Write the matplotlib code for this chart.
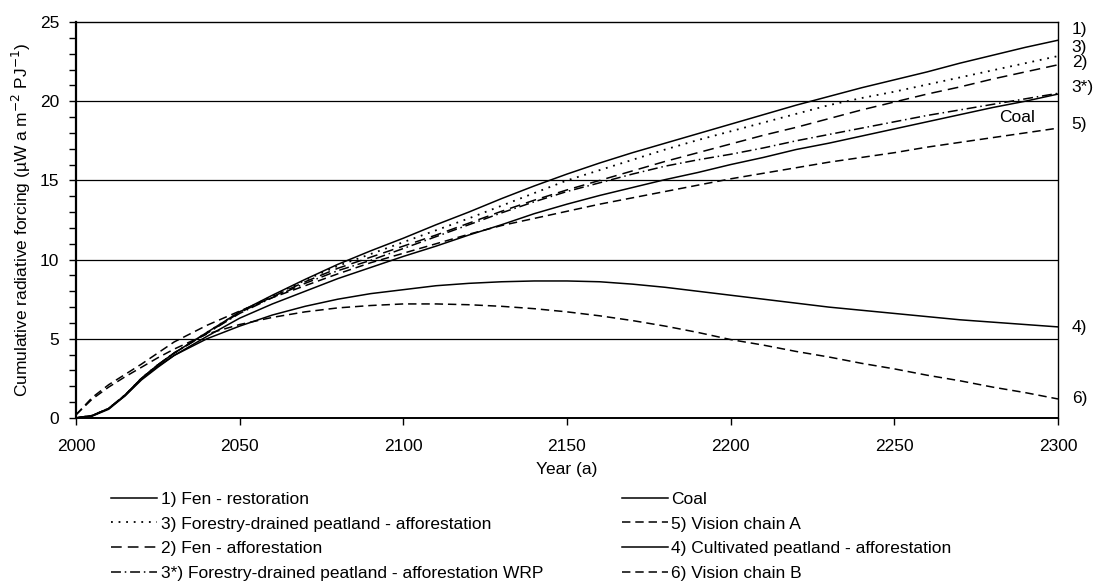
import matplotlib
matplotlib.use("Agg")
import matplotlib.pyplot as plt
import matplotlib.transforms as mtransforms
from matplotlib.ticker import MultipleLocator

plt.rcParams['font.family'] = ['Liberation Sans', 'DejaVu Sans']
plt.rcParams['font.size'] = 12.5

# Data (cumulative radiative forcing, uW a m-2 PJ-1)
years = [2000, 2005, 2010, 2015, 2020, 2025, 2030, 2040, 2050, 2060, 2070, 2080,
         2090, 2100, 2110, 2120, 2130, 2140, 2150, 2160, 2170, 2180, 2190, 2200,
         2210, 2220, 2230, 2240, 2250, 2260, 2270, 2280, 2290, 2300]

fen_restoration = [0, 0.15, 0.6, 1.45, 2.5, 3.35, 4.1, 5.4, 6.7, 7.75, 8.75, 9.7,
                   10.55, 11.35, 12.2, 13.0, 13.85, 14.65, 15.4, 16.1, 16.75, 17.35, 17.95, 18.55,
                   19.15, 19.75, 20.3, 20.85, 21.35, 21.85, 22.4, 22.9, 23.4, 23.85]
forestry_affor = [0, 0.15, 0.6, 1.45, 2.5, 3.35, 4.1, 5.4, 6.7, 7.7, 8.7, 9.6,
                  10.35, 11.1, 11.85, 12.6, 13.4, 14.2, 15.0, 15.65, 16.3, 16.95, 17.55, 18.1,
                  18.65, 19.2, 19.75, 20.2, 20.6, 21.05, 21.5, 21.95, 22.4, 22.85]
fen_affor = [0, 0.15, 0.6, 1.45, 2.5, 3.35, 4.1, 5.35, 6.65, 7.65, 8.6, 9.45,
             10.15, 10.85, 11.55, 12.3, 13.05, 13.75, 14.4, 15.0, 15.6, 16.2, 16.75, 17.3,
             17.85, 18.35, 18.9, 19.45, 19.95, 20.45, 20.9, 21.4, 21.85, 22.3]
forestry_wrp = [0, 0.15, 0.6, 1.45, 2.5, 3.35, 4.1, 5.35, 6.6, 7.6, 8.5, 9.3,
                9.95, 10.7, 11.45, 12.2, 12.95, 13.65, 14.3, 14.85, 15.4, 15.9, 16.3, 16.65,
                17.05, 17.5, 17.9, 18.3, 18.7, 19.1, 19.45, 19.8, 20.15, 20.5]
coal = [0, 0.12, 0.55, 1.4, 2.45, 3.25, 3.95, 5.15, 6.3, 7.2, 8.0, 8.8,
        9.5, 10.2, 10.85, 11.55, 12.2, 12.9, 13.5, 14.05, 14.55, 15.05, 15.5, 16.0,
        16.45, 16.95, 17.35, 17.8, 18.25, 18.7, 19.15, 19.6, 20.0, 20.45]
vision_a = [0.2, 1.3, 2.1, 2.75, 3.4, 4.1, 4.8, 5.85, 6.75, 7.6, 8.35, 9.1,
            9.8, 10.4, 11.0, 11.6, 12.15, 12.6, 13.05, 13.5, 13.9, 14.3, 14.7, 15.1,
            15.45, 15.8, 16.15, 16.45, 16.75, 17.1, 17.4, 17.7, 18.0, 18.3]
cultivated_affor = [0, 0.15, 0.6, 1.4, 2.4, 3.2, 3.95, 5.0, 5.8, 6.5, 7.05, 7.5,
                    7.85, 8.1, 8.35, 8.5, 8.6, 8.65, 8.65, 8.6, 8.45, 8.25, 8.0, 7.75,
                    7.5, 7.25, 7.0, 6.8, 6.6, 6.4, 6.2, 6.05, 5.9, 5.75]
vision_b = [0.2, 1.2, 1.95, 2.6, 3.2, 3.8, 4.35, 5.3, 5.9, 6.35, 6.7, 6.95,
            7.1, 7.2, 7.2, 7.15, 7.05, 6.9, 6.7, 6.45, 6.15, 5.8, 5.4, 4.95,
            4.6, 4.2, 3.85, 3.45, 3.1, 2.7, 2.35, 1.95, 1.6, 1.2]

series = [
    ("1) Fen - restoration", fen_restoration, "-", 1.1),
    ("3) Forestry-drained peatland - afforestation", forestry_affor, (0, (1, 3.2)), 1.3),
    ("2) Fen - afforestation", fen_affor, (0, (7, 4)), 1.1),
    ("3*) Forestry-drained peatland - afforestation WRP", forestry_wrp, (0, (6.5, 2.5, 1, 2.5)), 1.1),
    ("Coal", coal, "-", 1.1),
    ("5) Vision chain A", vision_a, (0, (5.5, 3.2)), 1.1),
    ("4) Cultivated peatland - afforestation", cultivated_affor, "-", 1.1),
    ("6) Vision chain B", vision_b, (0, (5.5, 3.2)), 1.1),
]

end_labels = ["1)", "3)", "2)", "3*)", "5)", "4)", "6)"]
end_label_y = [24.5, 23.4, 22.45, 20.85, 18.5, 5.7, 1.2]

fig = plt.figure(figsize=(10.93, 5.81), dpi=100)
ax = fig.add_axes([0.0695, 0.2806, 0.8985, 0.6815])

for label, vals, ls, lw in series:
    ax.plot(years, vals, color="black", lw=lw, linestyle=ls, label=label)

ax.set_xlim(2000, 2300)
ax.set_ylim(0, 25)
ax.xaxis.set_major_locator(MultipleLocator(50))
ax.yaxis.set_major_locator(MultipleLocator(5))
ax.yaxis.set_minor_locator(MultipleLocator(1))
ax.tick_params(axis="both", which="both", direction="out", length=5, width=1, colors="black")
ax.tick_params(axis="x", pad=10)
ax.tick_params(axis="y", pad=7)
ax.tick_params(axis="y", which="minor", length=5)

for yv in [5, 10, 15, 20]:
    ax.axhline(yv, color="black", lw=0.9, zorder=0)

for side in ["top", "right"]:
    ax.spines[side].set_linewidth(1.0)
ax.spines["left"].set_linewidth(1.6)
ax.spines["bottom"].set_linewidth(1.4)

ax.set_xlabel("Year (a)", labelpad=6)
ax.set_ylabel(r"Cumulative radiative forcing (µW a m$^{-2}$ PJ$^{-1}$)", labelpad=5)

trans = mtransforms.blended_transform_factory(ax.transAxes, ax.transData)
for lab, yv in zip(end_labels, end_label_y):
    ax.text(1.014, yv, lab, transform=trans, ha="left", va="center", clip_on=False)
ax.text(2287.5, 19.0, "Coal", ha="center", va="center")

leg = ax.legend(loc="upper left", bbox_to_anchor=(0.1016, 0.154), bbox_transform=fig.transFigure,
                ncol=2, frameon=False, handlelength=2.65, handletextpad=0.2,
                columnspacing=4.55, labelspacing=0.56, borderpad=0, borderaxespad=0)

fig.savefig("out.png", dpi=100)
